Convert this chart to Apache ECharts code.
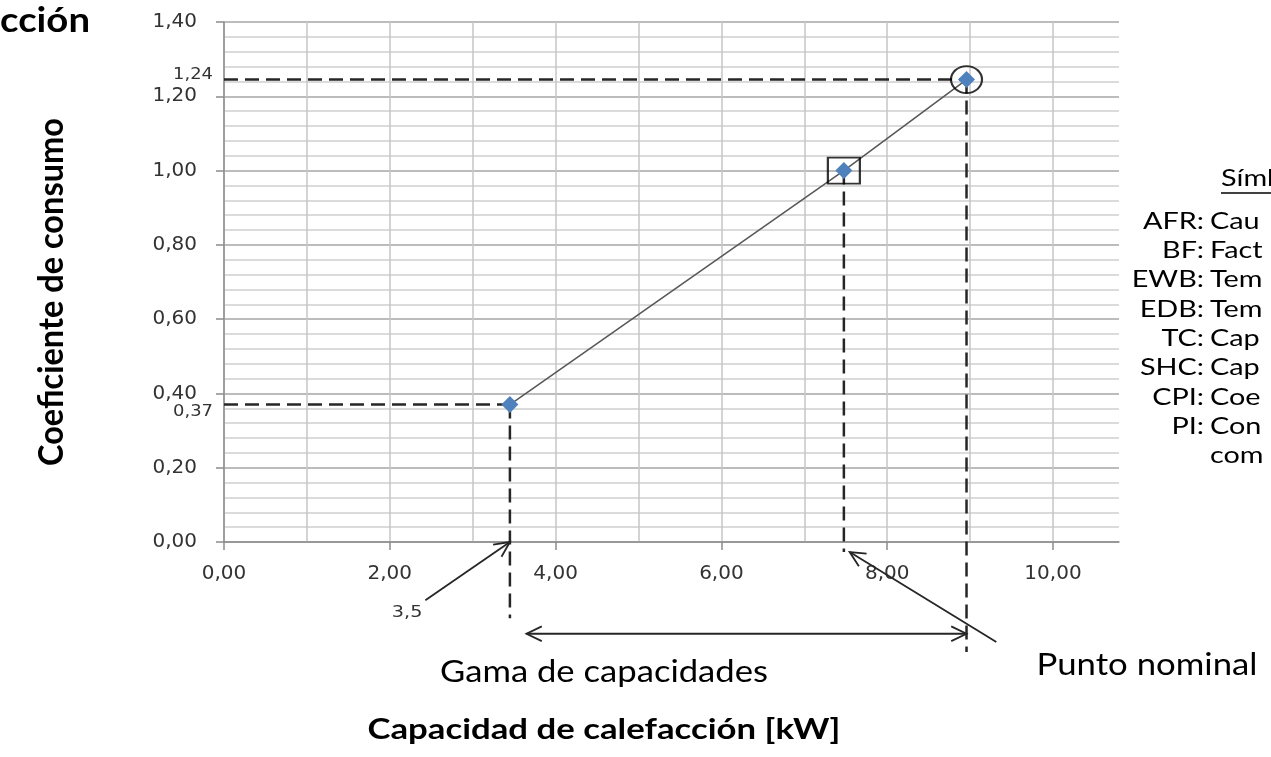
<!DOCTYPE html>
<html>
<head>
<meta charset="utf-8">
<script src="https://cdn.jsdelivr.net/npm/echarts@6/dist/echarts.min.js"></script>
<style>html,body{margin:0;padding:0;background:#fff}#c{width:1271px;height:757px}</style>
</head>
<body>
<div id="c"></div>
<script>
// ---------- data ----------
const capacities   = [3.45, 7.48, 8.96];      // Capacidad de calefacción [kW]
const coefficients = [0.37, 1.00, 1.245];     // Coeficiente de consumo
const capacityNote = '3,5';
const coefNotes    = ['0,37', '1,24'];
const xTickStep = 2;
const yTickStep = 0.2;
// dashed guide lines  [x1, y1, x2, y2]
const guideLines = [
  [0, 0.37, 3.45, 0.37],
  [0, 1.245, 8.96, 1.245],
  [3.45, 0.37, 3.45, -0.205],
  [7.48, 1.00, 7.48, -0.027],
  [8.96, 1.245, 8.96, -0.296]
];
// arrows [x1, y1, x2, y2, headAtStart, headAtEnd]
const arrows = [
  [2.43, -0.157, 3.45, 0.0, 0, 1],
  [9.32, -0.269, 7.55, -0.027, 0, 1],
  [3.65, -0.247, 8.96, -0.247, 1, 1]
];
const legendAbbr = ['AFR:', 'BF:', 'EWB:', 'EDB:', 'TC:', 'SHC:', 'CPI:', 'PI:', ''];
const legendDesc = ['Cau', 'Fact', 'Tem', 'Tem', 'Cap', 'Cap', 'Coe', 'Con', 'com'];
const legendHead = 'Símb';

// ---------- helpers ----------
const fmt = v => v.toFixed(2).replace('.', ',');
const mctx = document.createElement('canvas').getContext('2d');
function fitScale(text, weight, size, family, target) {
  mctx.font = weight + ' ' + size + 'px ' + family;
  return target / mctx.measureText(text).width;
}
function txt(text, x, y, o) {
  const size = o.size, weight = o.weight || 'normal', family = o.family || 'Lato';
  const sX = o.width ? fitScale(text, weight, size, family, o.width) : (o.scaleX || 1);
  return {
    type: 'text', x: x, y: y, rotation: o.rotation || 0,
    scaleX: sX, scaleY: o.scaleY || 1, silent: true, z: 20,
    style: {
      text: text, fontSize: size, fontWeight: weight, fontFamily: family,
      fill: o.color || '#000', align: o.align || 'center', verticalAlign: 'middle'
    }
  };
}
function head(tip, from, len, ang) {
  const dx = from[0] - tip[0], dy = from[1] - tip[1];
  const d = Math.hypot(dx, dy), ux = dx / d, uy = dy / d;
  const r = a => [tip[0] + len * (ux * Math.cos(a) - uy * Math.sin(a)),
                  tip[1] + len * (ux * Math.sin(a) + uy * Math.cos(a))];
  return [r(ang), tip, r(-ang)];
}

const chart = echarts.init(document.getElementById('c'));
const pts = capacities.map((x, i) => [x, coefficients[i]]);
const labelFont = 'DejaVu Sans';
const gridColorV = '#c6c6c6';

chart.setOption({
  animation: false,
  backgroundColor: '#fff',
  grid: [
    { left: 224, right: 152, top: 22, bottom: 215 },
    { left: 224, right: 218, top: 22, bottom: 215 }
  ],
  xAxis: [
    { type: 'value', gridIndex: 0, min: 0, max: 10.8,
      axisLine: { show: true, lineStyle: { color: '#8c8c8c', width: 1.5 } },
      axisTick: { show: false }, axisLabel: { show: false }, splitLine: { show: false } },
    { type: 'value', gridIndex: 1, min: 0, max: 10, interval: xTickStep,
      axisLine: { show: false },
      axisTick: { show: true, length: 8, lineStyle: { color: '#8c8c8c', width: 1.5 } },
      axisLabel: { show: true, margin: 22, formatter: fmt, fontFamily: labelFont, fontSize: 20, color: '#333' },
      splitLine: { show: true, lineStyle: { color: gridColorV, width: 1.5 } },
      minorTick: { show: false, splitNumber: 2 },
      minorSplitLine: { show: true, lineStyle: { color: gridColorV, width: 1.5 } } }
  ],
  yAxis: [
    { type: 'value', gridIndex: 0, min: 0, max: 1.4, interval: yTickStep,
      axisLine: { show: true, lineStyle: { color: '#8c8c8c', width: 1.5 } },
      axisTick: { show: true, length: 8, lineStyle: { color: '#8c8c8c', width: 1.5 } },
      axisLabel: { margin: 27, formatter: fmt, fontFamily: labelFont, fontSize: 20, color: '#333' },
      splitLine: { show: true, lineStyle: { color: '#a6a6a6', width: 1.5 } },
      minorTick: { show: false, splitNumber: 5 },
      minorSplitLine: { show: true, lineStyle: { color: '#d0d0d0', width: 1.5 } } },
    { type: 'value', gridIndex: 1, min: 0, max: 1.4, show: false }
  ],
  series: [
    { type: 'custom', xAxisIndex: 0, yAxisIndex: 0, clip: false, silent: true, z: 3,
      data: guideLines, encode: { x: [0, 2], y: [1, 3] },
      renderItem: (p, api) => {
        const a = api.coord([api.value(0), api.value(1)]);
        const b = api.coord([api.value(2), api.value(3)]);
        return { type: 'line', shape: { x1: a[0], y1: a[1], x2: b[0], y2: b[1] },
                 style: { stroke: '#262626', lineWidth: 2.5, lineDash: [14, 7] } };
      } },
    { type: 'custom', xAxisIndex: 0, yAxisIndex: 0, clip: false, silent: true, z: 3,
      data: arrows, encode: { x: [0, 2], y: [1, 3] },
      renderItem: (p, api) => {
        const a = api.coord([api.value(0), api.value(1)]);
        const b = api.coord([api.value(2), api.value(3)]);
        const st = { stroke: '#262626', lineWidth: 1.8, fill: null };
        const children = [{ type: 'line', shape: { x1: a[0], y1: a[1], x2: b[0], y2: b[1] }, style: st }];
        if (api.value(4)) children.push({ type: 'polyline', shape: { points: head(a, b, 17, 0.45) }, style: st });
        if (api.value(5)) children.push({ type: 'polyline', shape: { points: head(b, a, 17, 0.45) }, style: st });
        return { type: 'group', children: children };
      } },
    { type: 'line', xAxisIndex: 0, yAxisIndex: 0, data: pts, z: 4, silent: true,
      symbol: 'diamond', symbolSize: 17, showAllSymbol: true,
      itemStyle: { color: '#4F81BD' },
      lineStyle: { color: '#595959', width: 1.6 } },
    { type: 'scatter', xAxisIndex: 0, yAxisIndex: 0, silent: true, z: 5,
      data: [pts[1]], symbol: 'rect', symbolSize: [32, 26],
      itemStyle: { color: 'rgba(0,0,0,0)', borderColor: '#000', borderWidth: 2 } },
    { type: 'scatter', xAxisIndex: 0, yAxisIndex: 0, silent: true, z: 5,
      data: [pts[2]], symbol: 'circle', symbolSize: [31, 27],
      itemStyle: { color: 'rgba(0,0,0,0)', borderColor: '#000', borderWidth: 2 } }
  ]
});

// ---------- text annotations ----------
const toPx = v => chart.convertToPixel({ xAxisIndex: 0, yAxisIndex: 0 }, v);
const g = [];
const p037 = toPx([0, coefficients[0]]);
const p124 = toPx([0, coefficients[2]]);
const pArrow = toPx([arrows[0][0], arrows[0][1]]);
g.push(txt(coefNotes[0], p037[0] - 11, p037[1] + 7, { size: 16, family: labelFont, align: 'right', scaleX: 1.12, color: '#333' }));
g.push(txt(coefNotes[1], p124[0] - 11, p124[1] - 5, { size: 16, family: labelFont, align: 'right', scaleX: 1.12, color: '#333' }));
g.push(txt(capacityNote, pArrow[0] - 3, pArrow[1] + 13, { size: 16, family: labelFont, align: 'right', scaleX: 1.2, color: '#333' }));

// titles
g.push(txt('cción', 90, 21, { size: 34, weight: 'bold', align: 'right', width: 90 }));
const yName = txt('Coeficiente de consumo', 52, 292, { size: 29, weight: 'bold', width: 348, scaleY: 1.2 });
yName.rotation = Math.PI / 2;
g.push(yName);
g.push(txt('Gama de capacidades', 604, 672, { size: 30, width: 328 }));
g.push(txt('Punto nominal', 1147, 665, { size: 31, width: 221 }));
g.push(txt('Capacidad de calefacción [kW]', 604, 730, { size: 28, weight: 'bold', width: 473 }));

// symbol legend (cut at right edge)
const rowY0 = 221, rowStep = 29.3;
const legScale = 1.2;
g.push(txt(legendHead, 1221, 178, { size: 24, align: 'left', scaleX: legScale }));
g.push({ type: 'line', silent: true, z: 20, shape: { x1: 1221, y1: 193, x2: 1271, y2: 193 }, style: { stroke: '#000', lineWidth: 1.5 } });
legendAbbr.forEach((a, i) => {
  const y = rowY0 + i * rowStep;
  if (a) g.push(txt(a, 1204, y, { size: 24, align: 'right', scaleX: legScale }));
  g.push(txt(legendDesc[i], 1210, y, { size: 24, align: 'left', scaleX: legScale }));
});

chart.setOption({ graphic: g });
</script>
</body>
</html>
